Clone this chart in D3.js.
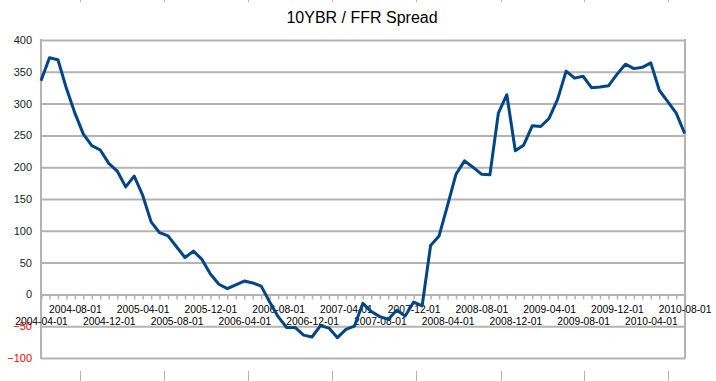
<!DOCTYPE html>
<html>
<head>
<meta charset="utf-8">
<script src="https://cdn.jsdelivr.net/npm/d3@7"></script>
<style>
  body { margin: 0; background: #fff; }
  svg { display: block; font-family: "Liberation Sans", Arial, sans-serif; }
</style>
</head>
<body>
<div id="chart"></div>
<script>
// chart title and series
let title = "10YBR / FFR Spread";

// monthly spread, 2004-04-01 .. 2010-08-01 (basis points)
let spread = [
  336, 372, 369, 324, 285, 252, 234, 227, 206, 194,
  169, 186, 156, 114, 97, 92, 75, 58, 68, 55,
  32, 16, 9, 15, 21, 18, 13, -12, -35, -52,
  -52, -64, -67, -49, -53, -68, -55, -50, -14, -27,
  -35, -39, -25, -34, -12, -18, 77, 92, 140, 189,
  210, 200, 189, 188, 285, 314, 226, 235, 265, 264,
  277, 307, 351, 340, 343, 325, 326, 328, 346, 362,
  355, 357, 364, 321, 303, 285, 253
];

// category labels (first of each month)
let months = [];
for (let i = 0; i < spread.length; i++) {
    let m = 3 + i; // 2004-04 is month index 3
    let yr = 2004 + Math.floor(m / 12);
    let mo = (m % 12) + 1;
    months.push(yr + "-" + String(mo).padStart(2, "0") + "-01");
}

let yTicks = [-100, -50, 0, 50, 100, 150, 200, 250, 300, 350, 400];

// stray marks at the page edges
let edgeMarks = [80, 164, 248, 332, 416, 501, 584, 668];

let width = 716, height = 381;
let plot = {left: 41, right: 685, top: 40, bottom: 358};

let svg = d3.select("#chart").append("svg")
    .attr("width", width)
    .attr("height", height);

let x = d3.scalePoint()
    .domain(months)
    .range([plot.left, plot.right - 0.3]);

let y = d3.scaleLinear()
    .domain([-100, 400])
    .range([plot.bottom, plot.top]);

// title
svg.append("text")
    .attr("x", 362)
    .attr("y", 22.7)
    .attr("text-anchor", "middle")
    .style("font-size", "16px")
    .style("fill", "#000")
    .text(title);

// grid + y labels
let yAxis = svg.append("g")
    .attr("transform", "translate(" + plot.left + ",0)")
    .call(d3.axisLeft(y).tickValues(yTicks).tickSize(-(plot.right - plot.left)).tickPadding(9));
yAxis.select(".domain").remove();
yAxis.selectAll(".tick line")
    .style("stroke", "#b3b3b3")
    .style("stroke-width", 2);
yAxis.selectAll(".tick text")
    .style("font-size", "11px")
    .style("font-family", "Liberation Sans, Arial, sans-serif")
    .style("fill", d => d < 0 ? "#ff0000" : "#222");

// frame: left and right edges
svg.append("line")
    .attr("x1", plot.left).attr("x2", plot.left)
    .attr("y1", plot.top - 1).attr("y2", plot.bottom + 1)
    .style("stroke", "#b3b3b3").style("stroke-width", 2);
svg.append("line")
    .attr("x1", plot.right).attr("x2", plot.right)
    .attr("y1", plot.top - 1).attr("y2", plot.bottom + 1)
    .style("stroke", "#b3b3b3").style("stroke-width", 2);

// x axis along zero
let xAxis = svg.append("g")
    .attr("transform", "translate(0," + y(0) + ")")
    .call(d3.axisBottom(x).tickSize(5).tickFormat((d, i) => i % 4 === 0 ? d : ""));
xAxis.select(".domain")
    .style("stroke", "#b3b3b3")
    .style("stroke-width", 2);
xAxis.selectAll(".tick line")
    .style("stroke", "#b3b3b3")
    .style("stroke-width", 1.5);
xAxis.selectAll(".tick text")
    .attr("dy", 0)
    .attr("y", (d, i) => (i % 8 === 0) ? 31 : 18.5)
    .style("font-size", "10.3px")
    .style("font-family", "Liberation Sans, Arial, sans-serif")
    .style("fill", "#000");

// the series
let line = d3.line()
    .x((d, i) => x(months[i]))
    .y(d => y(d));

svg.append("path")
    .datum(spread)
    .attr("d", line)
    .style("fill", "none")
    .style("stroke", "#004586")
    .style("stroke-width", 3)
    .style("stroke-linejoin", "round");

// edge marks
svg.selectAll(".edgeBottom")
    .data(edgeMarks)
    .enter().append("line")
    .attr("class", "edgeBottom")
    .attr("x1", d => d + 0.5).attr("x2", d => d + 0.5)
    .attr("y1", 371).attr("y2", 381)
    .style("stroke", "#b3b3b3");
svg.selectAll(".edgeTop")
    .data(edgeMarks)
    .enter().append("line")
    .attr("class", "edgeTop")
    .attr("x1", d => d + 0.5).attr("x2", d => d + 0.5)
    .attr("y1", 0).attr("y2", 2)
    .style("stroke", "#b3b3b3");
</script>
</body>
</html>
